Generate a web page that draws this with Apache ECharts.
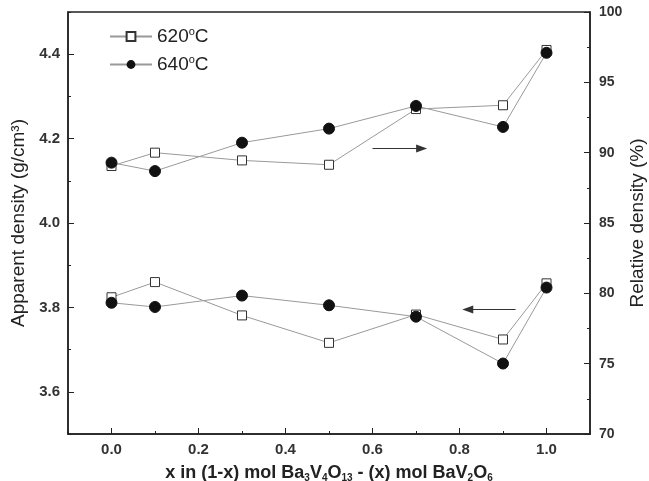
<!DOCTYPE html>
<html>
<head>
<meta charset="utf-8">
<script src="https://cdn.jsdelivr.net/npm/echarts@6/dist/echarts.min.js"></script>
<style>
  html, body { margin: 0; padding: 0; background: #fff; }
  #chart { width: 649px; height: 481px; }
</style>
</head>
<body>
<div id="chart"></div>
<script>
// composition x and the measured densities
var xValues = [0, 0.1, 0.3, 0.5, 0.7, 0.9, 1.0];
var apparent620 = [3.824, 3.860, 3.781, 3.716, 3.783, 3.724, 3.857];
var apparent640 = [3.811, 3.801, 3.828, 3.805, 3.778, 3.667, 3.847];
var relative620 = [89.05, 90.0, 89.45, 89.14, 93.1, 93.37, 97.3];
var relative640 = [89.29, 88.69, 90.71, 91.71, 93.32, 91.83, 97.1];

var xTicks = [0, 0.2, 0.4, 0.6, 0.8, 1.0];
var leftTicks = [3.6, 3.8, 4.0, 4.2, 4.4];

var FONT = 'Liberation Sans';
var AXIS = '#222';

function pairs(xs, ys) {
	var out = [];
	for (var i = 0; i < xs.length; i++) {
		out.push([xs[i], ys[i]]);
	}
	return out;
}

var myChart = echarts.init(document.getElementById('chart'));

var lineStyle = { color: '#999', width: 1 };
var squareStyle = { color: '#fff', borderColor: '#333', borderWidth: 1 };
var dotStyle = { color: '#111', borderColor: '#111' };

var arrowLine = function(from, to) {
	return {
		silent: true,
		symbol: ['none', 'triangle'],
		symbolSize: [8, 11],
		lineStyle: { color: '#333', width: 1, type: 'solid' },
		label: { show: false },
		data: [[{ coord: from }, { coord: to }]]
	};
};

// short ticks every step, drawn by a bare overlay axis
var minorAxis = function(min, max, step, pos) {
	return {
		type: 'value', min: min, max: max, interval: step, position: pos,
		axisLine: { show: false, onZero: false },
		axisTick: { show: true, inside: true, length: 3, lineStyle: { color: AXIS } },
		axisLabel: { show: false },
		splitLine: { show: false }
	};
};

var option = {
	animation: false,
	grid: {
		left: 68, top: 12, right: 59, bottom: 47,
		outerBoundsMode: 'none',
		show: true, borderColor: AXIS, borderWidth: 1.5,
		backgroundColor: 'transparent'
	},
	legend: {
		orient: 'vertical',
		left: 104, top: 21,
		itemWidth: 42, itemHeight: 11, itemGap: 8,
		data: ['620°C', '640°C'],
		formatter: function(name) {
			return name.replace('°', '{s|o}');
		},
		textStyle: {
			fontFamily: FONT, fontSize: 19, color: '#222',
			rich: { s: { fontFamily: FONT, fontSize: 11, color: '#222', padding: [0, 0, 10, 0] } }
		}
	},
	xAxis: [
		{
			type: 'value', min: -0.1, max: 1.1,
			name: 'x in (1-x) mol Ba{b|3}V{b|4}O{b|13} - (x) mol BaV{b|2}O{b|6}',
			nameLocation: 'middle', nameGap: 29,
			nameTextStyle: {
				fontFamily: FONT, fontSize: 18, fontWeight: 'bold', color: '#222',
				rich: { b: { fontFamily: FONT, fontSize: 10, fontWeight: 'bold', color: '#222', padding: [10, 0, 0, 0] } }
			},
			axisLine: { show: true, onZero: false, lineStyle: { color: AXIS, width: 1.5 } },
			axisTick: { show: true, inside: true, length: 6, customValues: xTicks, lineStyle: { color: AXIS } },
			axisLabel: {
				customValues: xTicks, margin: 8,
				fontFamily: FONT, fontSize: 15, fontWeight: 'bold', color: '#333',
				formatter: function(v) { return v.toFixed(1); }
			},
			splitLine: { show: false }
		},
		minorAxis(-0.1, 1.1, 0.1, 'bottom')
	],
	yAxis: [
		{
			type: 'value', min: 3.5, max: 4.5, position: 'left',
			name: 'Apparent density (g/cm³)',
			nameLocation: 'middle', nameGap: 37, nameRotate: 90,
			nameTextStyle: { fontFamily: FONT, fontSize: 19, color: '#222' },
			axisLine: { show: true, onZero: false, lineStyle: { color: AXIS, width: 1.5 } },
			axisTick: { show: true, inside: true, length: 6, customValues: leftTicks, lineStyle: { color: AXIS } },
			axisLabel: {
				customValues: leftTicks, margin: 8,
				fontFamily: FONT, fontSize: 15, fontWeight: 'bold', color: '#333',
				formatter: function(v) { return v.toFixed(1); }
			},
			splitLine: { show: false }
		},
		{
			type: 'value', min: 70, max: 100, interval: 5, position: 'right',
			name: 'Relative density (%)',
			nameLocation: 'middle', nameGap: 38, nameRotate: 90, nameMoveOverlap: false,
			nameTextStyle: { fontFamily: FONT, fontSize: 19, color: '#222' },
			axisLine: { show: true, onZero: false, lineStyle: { color: AXIS, width: 1.5 } },
			axisTick: { show: true, inside: true, length: 6, lineStyle: { color: AXIS } },
			minorTick: { show: true, splitNumber: 2, length: 3, lineStyle: { color: AXIS } },
			axisLabel: { margin: 9, fontFamily: FONT, fontSize: 14, fontWeight: 'bold', color: '#333' },
			splitLine: { show: false },
			minorSplitLine: { show: false }
		},
		minorAxis(3.5, 4.5, 0.1, 'left')
	],
	series: [
		{
			name: '620°C', type: 'line', xAxisIndex: 0, yAxisIndex: 0,
			data: pairs(xValues, apparent620),
			symbol: 'rect', symbolSize: 9,
			lineStyle: lineStyle, itemStyle: squareStyle, z: 2
		},
		{
			name: '640°C', type: 'line', xAxisIndex: 0, yAxisIndex: 0,
			data: pairs(xValues, apparent640),
			symbol: 'circle', symbolSize: 11,
			lineStyle: lineStyle, itemStyle: dotStyle, z: 3,
			markLine: arrowLine([0.929, 3.795], [0.819, 3.795])
		},
		{
			name: '620°C', type: 'line', xAxisIndex: 0, yAxisIndex: 1,
			data: pairs(xValues, relative620),
			symbol: 'rect', symbolSize: 9,
			lineStyle: lineStyle, itemStyle: squareStyle, z: 2
		},
		{
			name: '640°C', type: 'line', xAxisIndex: 0, yAxisIndex: 1,
			data: pairs(xValues, relative640),
			symbol: 'circle', symbolSize: 11,
			lineStyle: lineStyle, itemStyle: dotStyle, z: 3,
			markLine: arrowLine([0.6, 90.3], [0.713, 90.3])
		}
	]
};

myChart.setOption(option, true);
</script>
</body>
</html>
